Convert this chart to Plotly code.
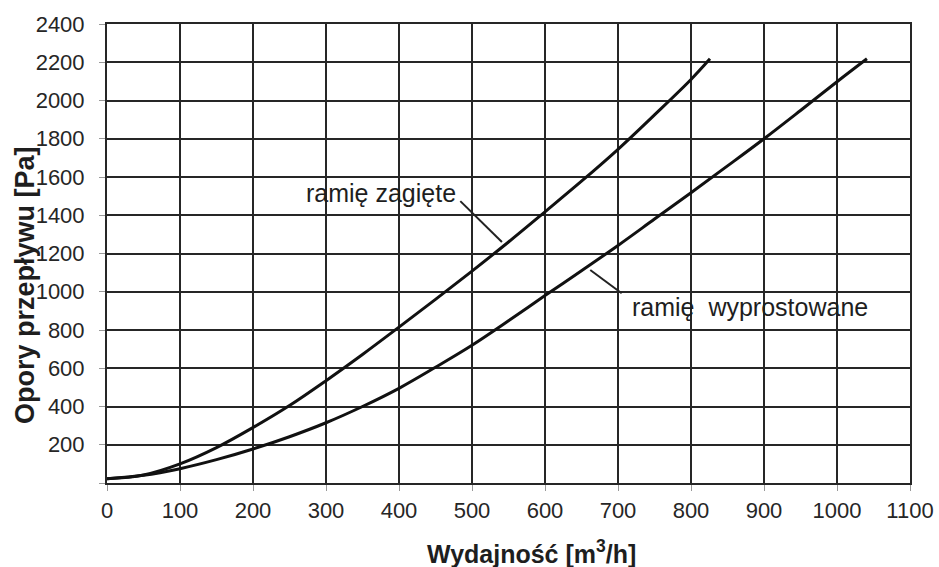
import plotly.graph_objects as go

# Data
flow_bent = [0, 50, 100, 150, 200, 250, 300, 350, 400, 450, 500, 550, 600, 650, 700, 750, 800, 826]
press_bent = [22, 42, 100, 185, 290, 405, 535, 672, 815, 960, 1108, 1260, 1418, 1578, 1745, 1925, 2110, 2218]

flow_straight = [0, 50, 100, 150, 200, 250, 300, 350, 400, 450, 500, 550, 600, 650, 700,
                 750, 800, 850, 900, 950, 1000, 1041]
press_straight = [22, 40, 75, 122, 178, 242, 315, 400, 495, 605, 720, 848, 980, 1110, 1242,
                  1380, 1518, 1658, 1800, 1948, 2098, 2218]

x_ticks = list(range(0, 1101, 100))
y_ticks = list(range(0, 2401, 200))
y_tick_text = [""] + [str(v) for v in y_ticks[1:]]

label_bent = "ramię zagięte"
label_straight = "ramię\u00a0\u00a0wyprostowane"
x_title = "Wydajność [m<sup>3</sup>/h]"
y_title = "Opory przepływu [Pa]"

# annotation anchors (data coords)
label_bent_pos = (376, 1516)
leader_bent = ([484, 541], [1474, 1260])
label_straight_pos = (881, 920)
leader_straight = ([662, 705], [1114, 992])

INK = "#1e1e1e"
FONT = "Liberation Sans, Arial, sans-serif"

fig = go.Figure()
for fx, py in ((flow_bent, press_bent), (flow_straight, press_straight)):
    fig.add_trace(go.Scatter(x=fx, y=py, mode="lines",
                             line=dict(color="#111", width=3, shape="spline", smoothing=1.0),
                             showlegend=False, hoverinfo="skip"))
for lx, ly in (leader_bent, leader_straight):
    fig.add_trace(go.Scatter(x=lx, y=ly, mode="lines",
                             line=dict(color="#222", width=2), showlegend=False, hoverinfo="skip"))

fig.add_annotation(x=label_bent_pos[0], y=label_bent_pos[1], text=label_bent,
                   showarrow=False, font=dict(family=FONT, size=25, color=INK))
fig.add_annotation(x=label_straight_pos[0], y=label_straight_pos[1], text=label_straight,
                   showarrow=False, font=dict(family=FONT, size=25, color=INK))

fig.add_annotation(xref="paper", yref="paper", x=0.529, y=-0.1496, yanchor="middle",
                   text=x_title, showarrow=False,
                   font=dict(family=FONT, size=25, color=INK, weight="bold"))
fig.add_annotation(xref="paper", yref="paper", x=-0.103, y=0.432, xanchor="center", yanchor="middle",
                   text=y_title, textangle=-90, showarrow=False,
                   font=dict(family=FONT, size=27, color=INK, weight="bold"))

axis_common = dict(showgrid=True, gridcolor="#262626", gridwidth=2,
                   showline=True, linecolor="#262626", linewidth=2, mirror=True,
                   ticks="outside", ticklen=6, tickwidth=1, tickcolor="#999",
                   zeroline=False,
                   tickfont=dict(family=FONT, size=22, color="#262626"))

fig.update_xaxes(range=[0, 1100], tickvals=x_ticks, ticklabelstandoff=1, **axis_common)
fig.update_yaxes(range=[0, 2400], tickvals=y_ticks, ticktext=y_tick_text,
                 ticklabelstandoff=10, **axis_common)

fig.update_layout(width=939, height=567,
                  margin=dict(l=107, r=29, t=24, b=84, autoexpand=False),
                  plot_bgcolor="white", paper_bgcolor="white")

fig.write_html("out.html", config={"displayModeBar": False},
               post_script="document.body.style.margin='0';")
